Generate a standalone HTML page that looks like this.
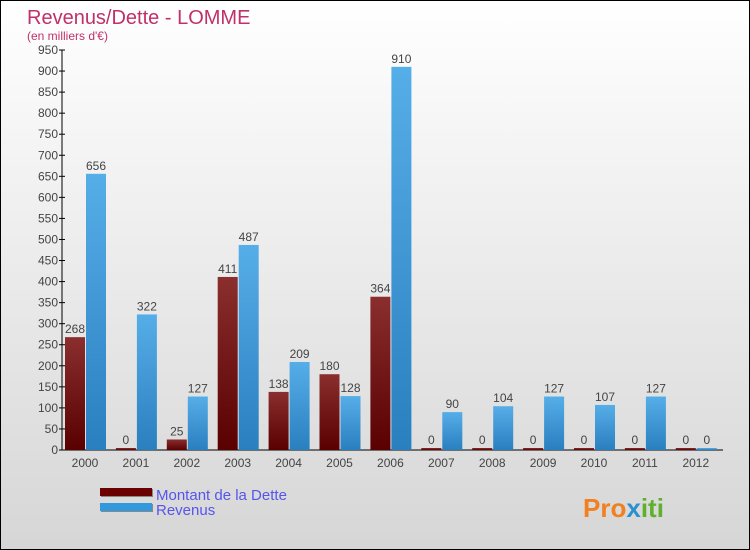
<!DOCTYPE html>
<html><head><meta charset="utf-8"><style>
body{margin:0}
#c{position:relative;width:748px;height:548px;border:1px solid #000;background:linear-gradient(#ffffff,#d6d6d6);font-family:"Liberation Sans",sans-serif;overflow:hidden}
</style></head><body>
<div id="c">
<svg id="s" width="748" height="548">
<defs>
<linearGradient id="gd" x1="0" y1="0" x2="0" y2="1"><stop offset="0" stop-color="#8a2e2e"/><stop offset="1" stop-color="#5a0000"/></linearGradient>
<linearGradient id="gr" x1="0" y1="0" x2="0" y2="1"><stop offset="0" stop-color="#56aee8"/><stop offset="1" stop-color="#2a7fbf"/></linearGradient>
</defs>
<text x="26" y="23" font-size="20" fill="#c0306a">Revenus/Dette - LOMME</text>
<text x="26" y="39" font-size="12" fill="#c0306a">(en milliers d'€)</text>
<g id="axes"></g><g id="bars"></g>
<rect x="100" y="488" width="52" height="8" fill="#888"/><rect x="99" y="487" width="52" height="8" fill="#6a0000"/>
<rect x="100" y="503" width="52" height="8" fill="#888"/><rect x="99" y="502" width="52" height="8" fill="#3399dd"/>
<text x="155" y="499" font-size="15" fill="#5555ee">Montant de la Dette</text>
<text x="155" y="514" font-size="15" fill="#5555ee">Revenus</text>
<text x="582" y="516" font-size="26" font-weight="bold" fill="#f08020">Pro<tspan fill="#2a90d0">x</tspan><tspan fill="#60b030">iti</tspan></text>
</svg></div>
<script>
const categories=["2000","2001","2002","2003","2004","2005","2006","2007","2008","2009","2010","2011","2012"];
const dette=[268,0,25,411,138,180,364,0,0,0,0,0,0];
const revenus=[656,322,127,487,209,128,910,90,104,127,107,127,0];
const yTicks=[0,50,100,150,200,250,300,350,400,450,500,550,600,650,700,750,800,850,900,950];
const NS="http://www.w3.org/2000/svg";
const x0=61,yBase=449,yTop=49,yMax=950,step=50.9,first=84;
const y=v=>yBase-(v/yMax)*(yBase-yTop);
const xc=i=>first+i*step;
function mk(t,a,p){const e=document.createElementNS(NS,t);for(const k in a)e.setAttribute(k,a[k]);p.appendChild(e);return e;}
const ax=document.getElementById('axes'),bg=document.getElementById('bars');
const ya=mk('line',{x1:x0,y1:yTop,x2:x0,y2:yBase,stroke:'#000'},ax);


const xa=mk('line',{x1:x0,y1:yBase,x2:722,y2:yBase,stroke:'#000'},ax);


yTicks.forEach(v=>{mk('line',{x1:x0-3,y1:y(v),x2:x0+3,y2:y(v),stroke:'#000'},ax);
const t=mk('text',{x:x0-4,y:y(v)+4,'font-size':12,fill:'#444','text-anchor':'end'},ax);t.textContent=v;

});
categories.forEach((c,i)=>{
const t=mk('text',{x:xc(i),y:466,'font-size':12,fill:'#444','text-anchor':'middle'},ax);t.textContent=c;


[[dette[i],-20,'url(#gd)','bar-dette'],[revenus[i],1,'url(#gr)','bar-revenus']].forEach(([v,dx,f,n])=>{
const top=Math.min(y(v),yBase-2);
const r=mk('rect',{x:xc(i)+dx,y:top,width:20,height:yBase-top,fill:f},bg);


const l=mk('text',{x:xc(i)+dx+10,y:top-4,'font-size':12,fill:'#444','text-anchor':'middle'},bg);l.textContent=v;

});
});
</script></body></html>
